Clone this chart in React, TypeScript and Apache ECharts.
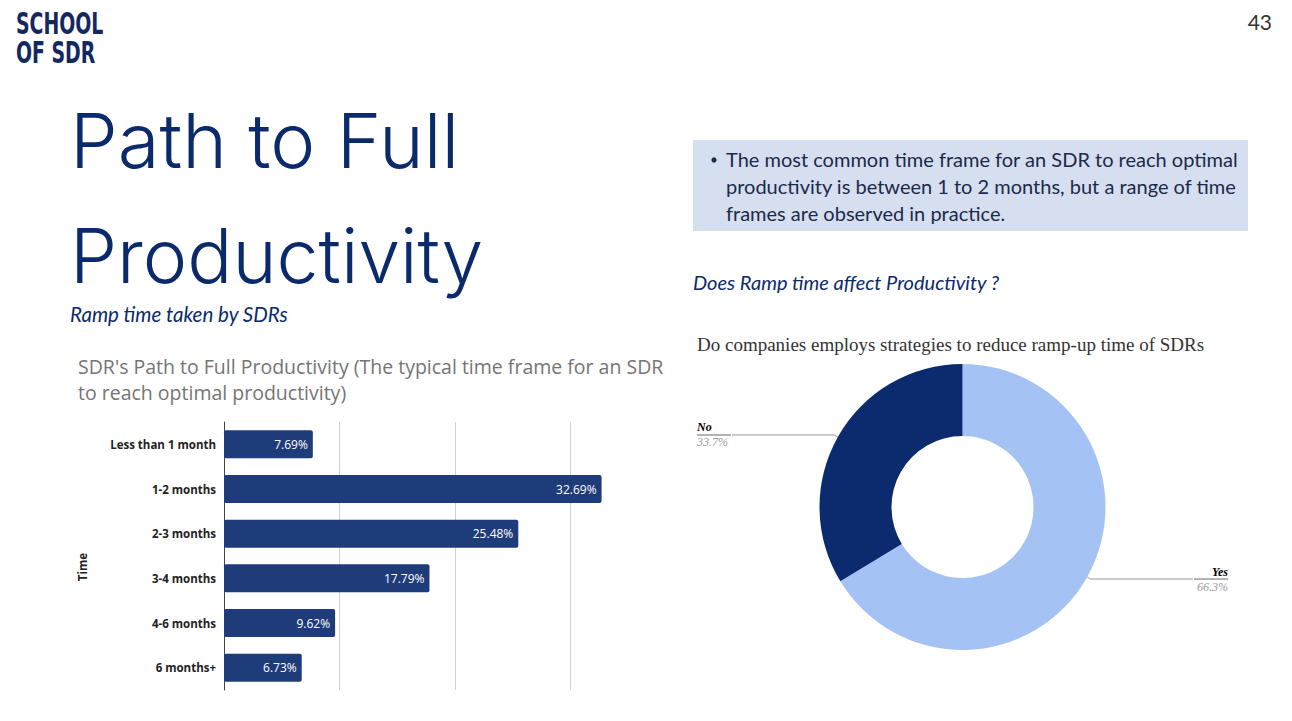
import React, { useEffect, useRef } from "react";
import * as echarts from "echarts";

// bar chart data
const rampCategories = [
  "Less than 1 month",
  "1-2 months",
  "2-3 months",
  "3-4 months",
  "4-6 months",
  "6 months+",
];
const rampShares = [7.69, 32.69, 25.48, 17.79, 9.62, 6.73];

// donut data
const strategyNames = ["Yes", "No"];
const strategyShares = [66.3, 33.7];
const strategyColors = ["#a4c2f4", "#0b2b6e"];

const NAVY = "#0b2a6b";

const App = () => {
  const chartRef = useRef(null);

  useEffect(() => {
    const myChart = echarts.init(chartRef.current, null, { renderer: "svg" });

    const option = {
      animation: false,
      backgroundColor: "#ffffff",
      graphic: [
        // logo
        {
          type: "text",
          x: 16,
          y: 24,
          scaleX: 0.7,
          style: {
            text: "SCHOOL",
            font: "bold 30px 'DejaVu Sans Condensed'",
            fill: "#13285e",
            verticalAlign: "middle",
          },
        },
        {
          type: "text",
          x: 16,
          y: 53,
          scaleX: 0.7,
          style: {
            text: "OF SDR",
            font: "bold 30px 'DejaVu Sans Condensed'",
            fill: "#13285e",
            verticalAlign: "middle",
          },
        },
        // page number
        {
          type: "text",
          x: 1272,
          y: 21,
          style: {
            text: "43",
            font: "21px Lato",
            fill: "#333333",
            align: "right",
            verticalAlign: "middle",
          },
        },
        // big title
        {
          type: "text",
          x: 70,
          y: 140,
          style: {
            text: "Path to Full",
            font: "300 76px Inter",
            fill: NAVY,
            verticalAlign: "middle",
          },
        },
        {
          type: "text",
          x: 70,
          y: 255,
          style: {
            text: "Productivity",
            font: "300 75px Inter",
            fill: NAVY,
            verticalAlign: "middle",
          },
        },
        {
          type: "text",
          x: 70,
          y: 314,
          style: {
            text: "Ramp time taken by SDRs",
            font: "italic 20.5px Lato",
            fill: NAVY,
            verticalAlign: "middle",
          },
        },
        // bullet box
        {
          type: "rect",
          shape: { x: 693, y: 140, width: 555, height: 91 },
          style: { fill: "#d5dff0" },
        },
        {
          type: "circle",
          shape: { cx: 714, cy: 160, r: 2.6 },
          style: { fill: "#1c2a4a" },
        },
        {
          type: "text",
          x: 726,
          y: 159,
          style: {
            text: "The most common time frame for an SDR to reach optimal",
            font: "20px Lato",
            fill: "#1c2a4a",
            verticalAlign: "middle",
          },
        },
        {
          type: "text",
          x: 726,
          y: 186,
          style: {
            text: "productivity is between 1 to 2 months, but a range of time",
            font: "20px Lato",
            fill: "#1c2a4a",
            verticalAlign: "middle",
          },
        },
        {
          type: "text",
          x: 726,
          y: 213,
          style: {
            text: "frames are observed in practice.",
            font: "20px Lato",
            fill: "#1c2a4a",
            verticalAlign: "middle",
          },
        },
        {
          type: "text",
          x: 693,
          y: 282,
          style: {
            text: "Does Ramp time affect Productivity ?",
            font: "italic 20px Lato",
            fill: NAVY,
            verticalAlign: "middle",
          },
        },
        // chart titles
        {
          type: "text",
          x: 78,
          y: 366,
          style: {
            text: "SDR's Path to Full Productivity (The typical time frame for an SDR",
            font: "19.5px 'Open Sans'",
            fill: "#757575",
            verticalAlign: "middle",
          },
        },
        {
          type: "text",
          x: 78,
          y: 392,
          style: {
            text: "to reach optimal productivity)",
            font: "19.5px 'Open Sans'",
            fill: "#757575",
            verticalAlign: "middle",
          },
        },
        {
          type: "text",
          x: 697,
          y: 344,
          style: {
            text: "Do companies employs strategies to reduce ramp-up time of SDRs",
            font: "19px 'Liberation Serif'",
            fill: "#333333",
            verticalAlign: "middle",
          },
        },
      ],
      grid: {
        left: 224,
        top: 422,
        width: 462,
        height: 268,
      },
      xAxis: {
        type: "value",
        min: 0,
        max: 40,
        interval: 10,
        axisLabel: { show: false },
        axisLine: { show: false },
        axisTick: { show: false },
        splitLine: {
          show: true,
          showMaxLine: false,
          lineStyle: { color: "#d0d0d0", width: 1 },
        },
      },
      yAxis: {
        type: "category",
        inverse: true,
        data: rampCategories,
        name: "Time",
        nameLocation: "middle",
        nameGap: 136,
        nameRotate: 90,
        nameTextStyle: {
          fontFamily: "Open Sans",
          fontWeight: "bold",
          fontSize: 11.5,
          color: "#222",
          padding: [0, 22, 0, 0],
        },
        axisLine: { show: true, lineStyle: { color: "#444", width: 1 } },
        axisTick: { show: false },
        axisLabel: {
          margin: 8,
          fontFamily: "Open Sans",
          fontWeight: "bold",
          fontSize: 11.5,
          color: "#222",
        },
      },
      series: [
        {
          type: "bar",
          data: rampShares,
          barWidth: 28,
          itemStyle: { color: "#1f3c7a", borderRadius: 2 },
          label: {
            show: true,
            position: "insideRight",
            formatter: "{c}%",
            color: "#ffffff",
            fontFamily: "Open Sans",
            fontSize: 12,
          },
        },
        {
          type: "pie",
          left: 697,
          top: 364,
          width: 531,
          height: 286,
          center: ["50%", "50%"],
          radius: [71, 143],
          startAngle: 90,
          clockwise: true,
          data: strategyNames.map((name, i) => ({
            name,
            value: strategyShares[i],
            itemStyle: { color: strategyColors[i] },
          })),
          label: {
            show: true,
            alignTo: "edge",
            edgeDistance: 0,
            distanceToLabelLine: 0,
            formatter: "{n|{b}}\n{hr|}\n{v|{c}%}",
            rich: {
              n: {
                fontFamily: "Liberation Serif",
                fontStyle: "italic",
                fontWeight: "bold",
                fontSize: 12,
                color: "#000",
                lineHeight: 15,
              },
              hr: {
                width: 34,
                height: 0,
                borderColor: "#999",
                borderWidth: 1,
              },
              v: {
                fontFamily: "Liberation Serif",
                fontStyle: "italic",
                fontSize: 12,
                color: "#999",
                lineHeight: 15,
              },
            },
          },
          labelLine: {
            show: true,
            length: 4,
            length2: 10,
            lineStyle: { color: "#999", width: 1 },
          },
        },
      ],
    };

    myChart.setOption(option);

    return () => {
      myChart.dispose();
    };
  }, []);

  return (
    <div
      ref={chartRef}
      style={{ position: "fixed", left: 0, top: 0, width: "1292px", height: "721px" }}
    ></div>
  );
};

export default App;
